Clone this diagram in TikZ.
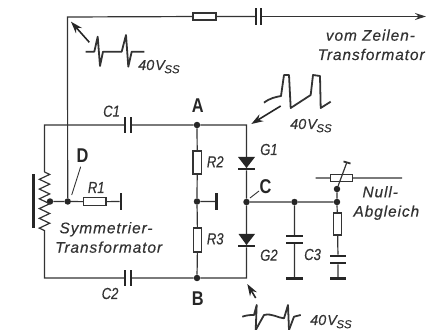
\documentclass[tikz,border=0pt]{standalone}
\usepackage{fontspec}
\setmainfont[ItalicFeatures={FakeBold=0.35}]{Liberation Sans}
\newfontfamily\tagfont[FakeStretch=0.82,ItalicFeatures={FakeBold=0.35}]{Liberation Sans}
\newfontfamily\notefont[LetterSpace=6,ItalicFeatures={FakeBold=0.35}]{Liberation Sans}
\usetikzlibrary{arrows.meta,decorations.pathmorphing}
\newcommand{\voltss}{40\kern1pt V\kern-.5pt\raisebox{-.22em}{\fontsize{11.5}{12}\selectfont SS}}
\tikzset{
  wire/.style={line width=1.2pt,draw=black!80},
  dot/.style={circle,fill=black!85,inner sep=0pt,minimum size=6.5pt},
  res/.style={draw=black!80,line width=1.2pt,fill=white,inner sep=0pt,minimum width=#1},
  plate/.style={fill=black!85,inner sep=0pt},
  wave/.style={line width=1.8pt,draw=black!80,line join=round},
  pointer/.style={line width=1.6pt,draw=black!85,-{Stealth[length=12pt,width=8pt]}},
  txt/.style={font=\notefont\fontsize{15.5}{16}\selectfont\itshape,text=black!80,inner sep=0pt,anchor=base west},
  tag/.style={font=\tagfont\fontsize{16}{16}\selectfont\itshape,text=black!80,inner sep=0pt,anchor=base west},
  lbl/.style={font=\tagfont\fontsize{20}{20}\selectfont\bfseries,text=black!85,inner sep=0pt,anchor=base},
  volt/.style={font=\fontsize{14.5}{15}\selectfont\itshape,text=black!80,inner sep=0pt,anchor=base west}
}
\begin{document}
\begin{tikzpicture}[scale=0.035278]
\useasboundingbox (0,0) rectangle (427,-330);
\coordinate (tl) at (67.5,-17);
\coordinate (tip) at (426,-16.5);
\coordinate (rl) at (44.5,-125);
\coordinate (rr) at (246.5,-125);
\coordinate (bl) at (44.5,-278);
\coordinate (br) at (246.5,-278);
\coordinate (cu) at (44.5,-172);
\coordinate (cl) at (44.5,-231);
\node [dot] (a) at (197,-125) {};
\node [dot] (m) at (197,-201.5) {};
\node [dot] (b) at (197,-278) {};
\node [dot] (c) at (246.5,-202) {};
\node [dot] (d) at (67.7,-201.5) {};
\node [dot] (k) at (50,-201.5) {};
\node [dot] (n) at (294.5,-202) {};
\node [dot] (p) at (337,-202) {};
\node [dot] (w) at (337,-189) {};
\node [res=23pt,minimum height=7pt] (rt) at (204.5,-16.5) {};
\node [res=8.5pt,minimum height=23pt] (r2) at (197.3,-162.5) {};
\node [res=8.5pt,minimum height=24pt] (r3) at (197.6,-240) {};
\node [res=22.5pt,minimum height=8pt] (r1) at (94.7,-201.8) {};
\node [res=8.5pt,minimum height=22pt] (r4) at (337.5,-224) {};
\node [res=21.5pt,minimum height=7.5pt] (rp) at (341.5,-178) {};
\node [plate,minimum width=2pt,minimum height=17pt] (ct1) at (256,-16.5) {};
\node [plate,minimum width=2pt,minimum height=17pt] (ct2) at (261,-16.5) {};
\node [plate,minimum width=2pt,minimum height=17pt] (c1a) at (125,-125) {};
\node [plate,minimum width=2pt,minimum height=17pt] (c1b) at (131,-125) {};
\node [plate,minimum width=2pt,minimum height=17pt] (c2a) at (125,-278) {};
\node [plate,minimum width=2pt,minimum height=17pt] (c2b) at (131,-278) {};
\node [plate,minimum width=17pt,minimum height=2pt] (c3a) at (294.5,-236) {};
\node [plate,minimum width=17pt,minimum height=2pt] (c3b) at (294.5,-243) {};
\node [plate,minimum width=17pt,minimum height=2.5pt] (c3g) at (294.5,-278.3) {};
\node [plate,minimum width=17pt,minimum height=2.5pt] (c4a) at (338,-256) {};
\node [plate,minimum width=17pt,minimum height=2.5pt] (c4b) at (338,-263) {};
\node [plate,minimum width=17pt,minimum height=2.5pt] (c4g) at (338,-278.3) {};
\node [plate,minimum width=17pt,minimum height=2.5pt] (g1) at (246.5,-169) {};
\node [plate,minimum width=17pt,minimum height=2.5pt] (g2) at (246.5,-246) {};
\node [plate,minimum width=2.5pt,minimum height=17pt] (gm) at (216.7,-201.5) {};
\node [plate,minimum width=2.5pt,minimum height=17pt] (gr) at (121,-201.5) {};
\node [plate,minimum width=2.5pt,minimum height=54pt] (core) at (33.3,-201) {};
\draw [wire] (d) -- (tl) -- (rt);
\draw [wire] (rt) -- (ct1);
\draw [wire,-{Stealth[length=11pt,width=7pt]}] (ct2) -- (tip);
\draw [wire] (cu) -- (rl) -- (c1a);
\draw [wire] (c1b) -- (a) -- (rr) -- (g1);
\draw [wire] (a) -- (r2) -- (m) -- (r3) -- (b);
\draw [wire] (m) -- (gm);
\draw [wire] (cl) -- (bl) -- (c2a);
\draw [wire] (c2b) -- (b) -- (br) -- (g2);
\draw [wire] (g1) -- (c) -- (g2);
\draw [wire] (c) -- (n) -- (p) -- (w);
\draw [wire] (p) -- (r4) -- (c4a);
\draw [wire] (c4b) -- (c4g);
\draw [wire] (n) -- (c3a);
\draw [wire] (c3b) -- (c3g);
\draw [wire] (k) -- (d) -- (r1) -- (gr);
\draw [wire,decorate,decoration={zigzag,segment length=9.8pt,amplitude=5.2pt}] (cu) -- (cl);
\draw [wire] (315.7,-178) -- (rp) -- (402,-178);
\draw [wire] (w) -- (347,-162);
\draw [line width=1.8pt,draw=black!80] (343.5,-161.5) -- (350.5,-163.5);
\fill [black!85] (238,-157) -- (255,-157) -- (246.5,-168) -- cycle;
\fill [black!85] (238.5,-234) -- (255,-234) -- (246.5,-245) -- cycle;
\draw [wire,line width=.9pt] (71.7,-195) -- (80.7,-166.7);
\draw [wire,line width=.9pt] (250,-198) -- (259,-191);
\draw [wave] (85.7,-51.7) -- (94.3,-51.7) -- (97.7,-36.7) -- (100,-66) -- (103,-51.7) -- (121.7,-51.7) -- (126,-35) -- (128.3,-66.7) -- (131.7,-51.7) -- (144.3,-51.7);
\draw [wave] (264,-102.7) .. controls (270,-98) and (276,-97) .. (281,-96) -- (284,-75) -- (289,-75) -- (290.7,-108) -- (310.7,-95) -- (313,-75) -- (320,-76) -- (320.7,-108) -- (330.7,-101.7);
\draw [wave] (242.3,-316.7) .. controls (247,-315) and (251,-315) .. (254,-315) -- (256.7,-305) -- (255.7,-330);
\draw [wave] (255.7,-330) -- (264,-315) .. controls (272,-313) and (278,-318) .. (284,-318.3) -- (288,-305) -- (289,-330);
\draw [wave] (289,-330) -- (294,-316.7) -- (300.7,-315);
\draw [pointer] (89.3,-42.3) -- (71,-21.7);
\draw [pointer] (280.7,-106) -- (251.3,-124);
\draw [pointer] (255.7,-298) -- (247.3,-284);
\node [lbl] (ta) at (197.7,-113) {A};
\node [lbl] (tb) at (197.7,-306) {B};
\node [lbl] (tc) at (265.5,-194) {C};
\node [lbl] (td) at (82.5,-163) {D};
\node [tag] (tc1) at (103,-116.7) {C1};
\node [tag] (tc2) at (101.5,-299) {C2};
\node [tag] (tc3) at (304,-260) {C3};
\node [tag] (tr1) at (87.7,-193) {R1};
\node [tag] (tr2) at (206.7,-167.3) {R2};
\node [tag] (tr3) at (206.7,-244.3) {R3};
\node [tag] (tg1) at (260,-155) {G1};
\node [tag] (tg2) at (260,-260.7) {G2};
\node [volt] (v1) at (138,-70) {\voltss};
\node [volt] (v2) at (290,-129) {\voltss};
\node [volt] (v3) at (310,-325) {\voltss};
\node [txt] (t1) at (325.7,-40.7) {vom Zeilen-};
\node [txt] (t2) at (317.5,-60) {Transformator};
\node [txt] (t3) at (59.3,-233.3) {Symmetrier-};
\node [txt] (t4) at (55,-252.7) {Transformator};
\node [txt] (t5) at (362.3,-197.3) {Null-};
\node [txt] (t6) at (353.3,-216.7) {Abgleich};
\end{tikzpicture}
\end{document}
